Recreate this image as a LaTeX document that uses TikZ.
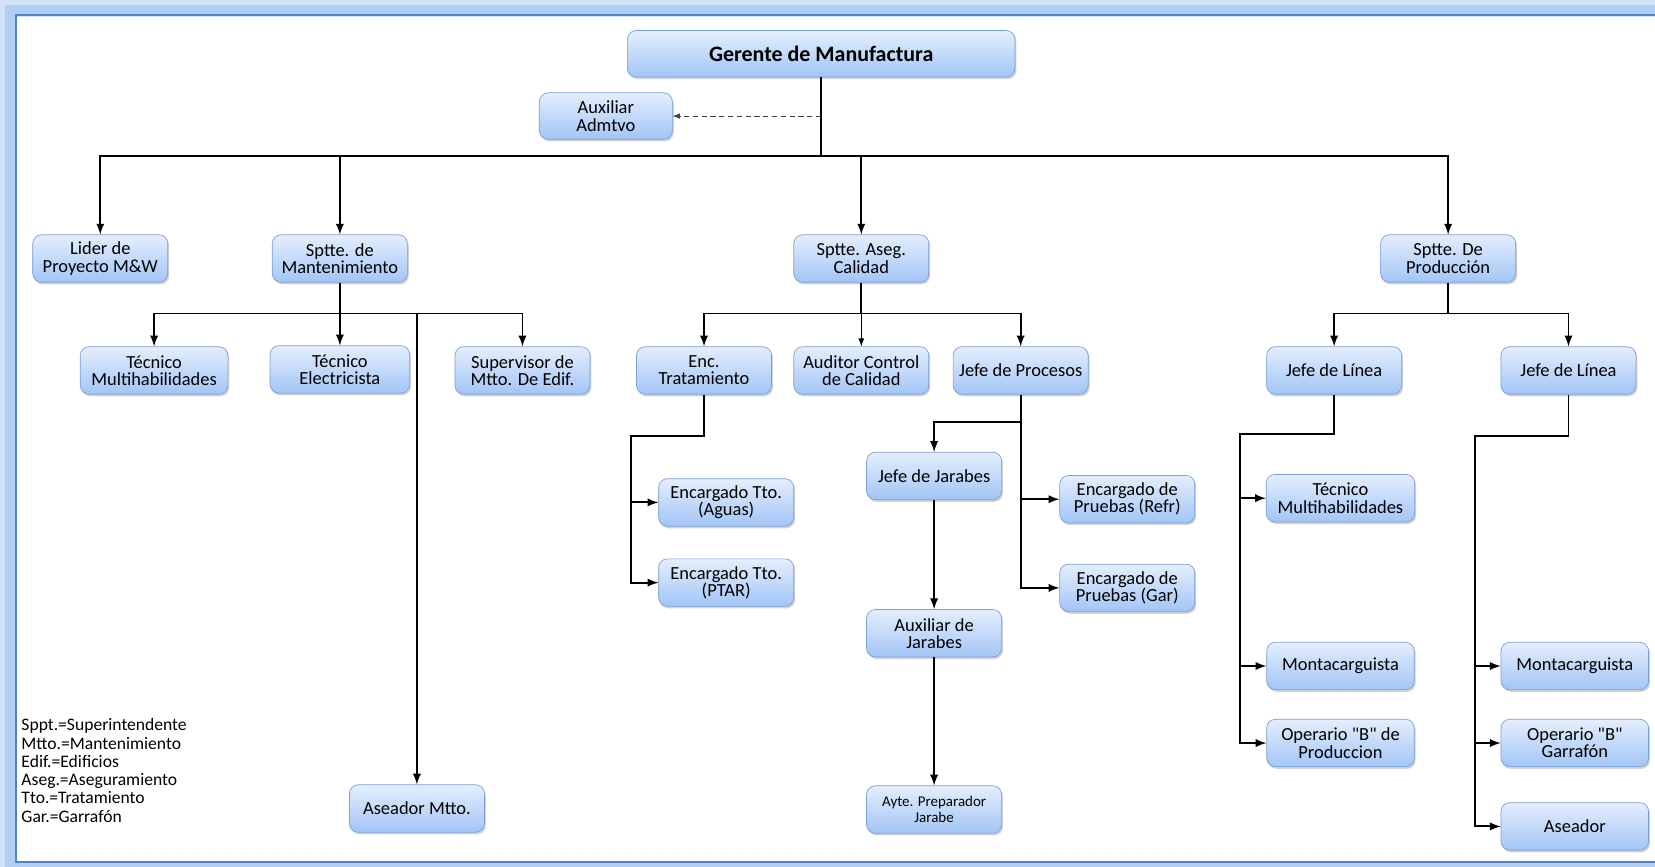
\documentclass[tikz,border=0pt]{standalone}
\usepackage{fontspec}
\setmainfont{Carlito}
\usepackage{tikz}
\usetikzlibrary{shadows,arrows}

\definecolor{cajaA}{RGB}{228,238,253}
\definecolor{cajaB}{RGB}{162,197,246}
\definecolor{borde}{RGB}{122,160,214}
\definecolor{marco}{RGB}{84,130,196}
\definecolor{halo}{RGB}{176,207,243}

\tikzset{
  puesto/.style={draw=borde, rounded corners=5pt, top color=cajaA, bottom color=cajaB,
    minimum width=2.7cm, minimum height=0.95cm, inner sep=1pt, align=center,
    font=\fontsize{10.5}{9.8}\selectfont,
    drop shadow={opacity=0.35, shadow xshift=0.8pt, shadow yshift=-1.2pt}},
  linea/.style={line width=1.1pt, -latex},
}

\begin{document}
\begin{tikzpicture}[x=0.0211cm, y=-0.0211cm]
	\useasboundingbox (0,0) rectangle (1568,821);
	% marco
	\draw[halo!60, line width=12pt] (1580,6) -- (6,6) -- (6,826) -- (1580,826);
	\draw[halo, line width=6pt] (1580,10) -- (10,10) -- (10,821) -- (1580,821);
	\draw[marco, line width=1.3pt] (1580,14) -- (15,14) -- (15,817) -- (1580,817);

	\node[puesto, minimum width=7.75cm, minimum height=0.93cm, font=\bfseries\fontsize{12.5}{13}\selectfont] (ger) at (778,51) {Gerente de Manufactura};
	\node[puesto, minimum width=2.66cm, minimum height=0.93cm] (aux) at (574,110) {Auxiliar\\Admtvo};

	\node[puesto] (lider) at (95,245) {Lider de\\Proyecto M\&W};
	\node[puesto] (mant) at (322,245) {Sptte. de\\Mantenimiento};
	\node[puesto] (cal) at (816,245) {Sptte. Aseg.\\Calidad};
	\node[puesto] (prod) at (1372,245) {Sptte. De\\Producción};

	\node[puesto, minimum width=2.95cm] (tm1) at (146,351) {Técnico\\Multihabilidades};
	\node[puesto, minimum width=2.79cm] (te) at (322,350) {Técnico\\Electricista};
	\node[puesto] (smed) at (495,351) {Supervisor de\\Mtto. De Edif.};
	\node[puesto] (enc) at (667,351) {Enc.\\Tratamiento};
	\node[puesto] (aud) at (816,351) {Auditor Control\\de Calidad};
	\node[puesto] (jp) at (967,351) {Jefe de Procesos};
	\node[puesto] (jl1) at (1264,351) {Jefe de Línea};
	\node[puesto] (jl2) at (1486,351) {Jefe de Línea};

	\node[puesto] (aseo) at (395,766) {Aseador Mtto.};

	\node[puesto] (agua) at (688,476) {Encargado Tto.\\(Aguas)};
	\node[puesto] (ptar) at (688,552) {Encargado Tto.\\(PTAR)};

	\node[puesto] (jj) at (885,451) {Jefe de Jarabes};
	\node[puesto] (refr) at (1068,473) {Encargado de\\Pruebas (Refr)};
	\node[puesto] (gar) at (1068,557) {Encargado de\\Pruebas (Gar)};
	\node[puesto] (auxj) at (885,600) {Auxiliar de\\Jarabes};
	\node[puesto, font=\fontsize{8.5}{9}\selectfont] (ayte) at (885,767) {Ayte. Preparador\\Jarabe};

	\node[puesto, minimum width=2.97cm] (tm2) at (1270,472) {Técnico\\Multihabilidades};
	\node[puesto, minimum width=2.95cm] (mont1) at (1270,631) {Montacarguista};
	\node[puesto, minimum width=2.95cm] (op1) at (1270,704) {Operario \textquotedbl B\textquotedbl{} de\\Produccion};

	\node[puesto, minimum width=2.95cm] (mont2) at (1492,631) {Montacarguista};
	\node[puesto, minimum width=2.95cm] (op2) at (1492,704) {Operario \textquotedbl B\textquotedbl\\Garrafón};
	\node[puesto, minimum width=2.95cm] (ase2) at (1492,783) {Aseador};

	\node[anchor=west, align=left, inner sep=0pt, font=\fontsize{10}{10.4}\selectfont] (leyenda) at (20,730)
		{Sppt.=Superintendente\\Mtto.=Mantenimiento\\Edif.=Edificios\\Aseg.=Aseguramiento\\Tto.=Tratamiento\\Gar.=Garrafón};

	% conexiones
	\coordinate (b1) at (0,148);
	\coordinate (b2) at (0,297);
	\coordinate (ct) at (598,413);
	\coordinate (cj) at (0,400);
	\coordinate (cl1) at (1175,411);
	\coordinate (cl2) at (1397,413);

	\draw[black!75, densely dashed, -latex] (ger.south |- aux) -- (aux.east);
	\draw[linea] (ger.south) |- (lider.north |- b1) -- (lider.north);
	\draw[linea] (ger.south) |- (mant.north |- b1) -- (mant.north);
	\draw[linea] (ger.south) |- (cal.north |- b1) -- (cal.north);
	\draw[linea] (ger.south) |- (prod.north |- b1) -- (prod.north);

	\draw[linea] (mant.south) |- (tm1.north |- b2) -- (tm1.north);
	\draw[linea] (mant.south) -- (te.north);
	\draw[linea] (mant.south) |- (smed.north |- b2) -- (smed.north);
	\draw[linea] (mant.south) |- (aseo.north |- b2) -- (aseo.north);

	\draw[linea] (cal.south) |- (enc.north |- b2) -- (enc.north);
	\draw[line width=0.6pt, -latex] (cal.south) -- (aud.north);
	\draw[linea] (cal.south) |- (jp.north |- b2) -- (jp.north);

	\draw[linea] (prod.south) |- (jl1.north |- b2) -- (jl1.north);
	\draw[linea] (prod.south) |- (jl2.north |- b2) -- (jl2.north);

	\draw[linea] (enc.south) |- (ct) |- (agua.west);
	\draw[linea] (ct) |- (ptar.west);

	\draw[linea] (jp.south) |- (gar.west);
	\draw[linea] (jp.south) |- (refr.west);
	\draw[linea] (jp.south |- cj) -| (jj.north);
	\draw[linea] (jj.south) -- (auxj.north);
	\draw[linea] (auxj.south) -- (ayte.north);

	\draw[linea] (jl1.south) |- (cl1) |- (tm2.west);
	\draw[linea] (cl1) |- (mont1.west);
	\draw[linea] (cl1) |- (op1.west);

	\draw[linea] (jl2.south) |- (cl2) |- (mont2.west);
	\draw[linea] (cl2) |- (op2.west);
	\draw[linea] (cl2) |- (ase2.west);
\end{tikzpicture}
\end{document}
